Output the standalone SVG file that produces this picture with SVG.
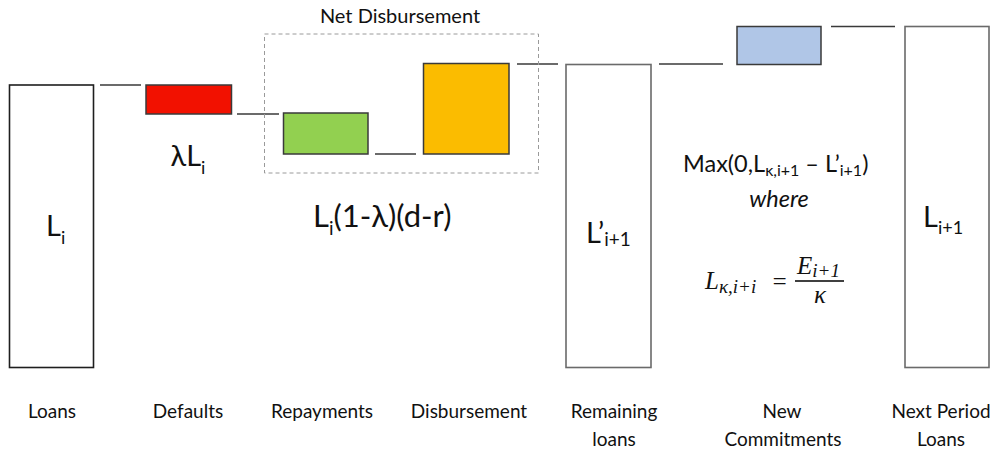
<svg xmlns="http://www.w3.org/2000/svg" width="995" height="450" viewBox="0 0 995 450">
  <style>
    .bar { stroke: #3a3a3a; stroke-width: 1.5; }
    .tall { fill: #ffffff; stroke-width: 1.6; }
    .link { stroke: #3a3a3a; stroke-width: 1.5; fill: none; }
    .frame { fill: none; stroke: #9a9a9a; stroke-width: 1; stroke-dasharray: 4 3; }
    text { font-family: "Lato", "Liberation Sans", sans-serif; fill: #111; }
    .cap { font-size: 19px; text-anchor: middle; }
    .big { font-size: 29px; }
    .mid { font-size: 23.5px; }
    .math { font-family: "Liberation Serif", "DejaVu Serif", serif; font-style: italic; font-size: 25px; }
  </style>

  <rect width="995" height="450" fill="#ffffff"/>

  <!-- step connectors between bars -->
  <g id="connectors">
    <line class="link" x1="100" y1="85" x2="141" y2="85"/>
    <line class="link" x1="237" y1="114" x2="279" y2="114"/>
    <line class="link" x1="375" y1="154" x2="416" y2="154"/>
    <line class="link" x1="517" y1="64" x2="558" y2="64"/>
    <line class="link" x1="659" y1="64" x2="723" y2="64"/>
    <line class="link" x1="831" y1="26.5" x2="895" y2="26.5"/>
  </g>

  <!-- dashed bracket around repayments and disbursement -->
  <g id="net-disbursement">
    <rect class="frame" x="264.5" y="34" width="274" height="139"/>
    <text x="400" y="23" font-size="20" text-anchor="middle">Net Disbursement</text>
  </g>

  <g id="loans">
    <rect class="tall" x="9.5" y="85" width="84" height="282.5" stroke="#1e1e1e"/>
    <text class="big" x="46" y="236">L<tspan font-size="18" dy="8">i</tspan></text>
    <text class="cap" x="52" y="418">Loans</text>
  </g>

  <g id="defaults">
    <rect class="bar" x="146" y="85" width="85.5" height="29" fill="#f21100"/>
    <text class="big" x="188" y="166" text-anchor="middle">λL<tspan font-size="18" dy="8">i</tspan></text>
    <text class="cap" x="188" y="418">Defaults</text>
  </g>

  <g id="repayments">
    <rect class="bar" x="283.5" y="113" width="84.5" height="41" fill="#92d050"/>
    <text class="cap" x="322" y="418">Repayments</text>
  </g>

  <g id="disbursement">
    <rect class="bar" x="423.5" y="63.5" width="85.5" height="90.5" fill="#fbbc00"/>
    <text class="cap" x="469" y="418">Disbursement</text>
  </g>

  <!-- formula shared by repayments and disbursement -->
  <text x="313" y="227" font-size="31">L<tspan font-size="19" dy="8">i</tspan><tspan dy="-8">(1-λ)(d-r)</tspan></text>

  <g id="remaining-loans">
    <rect class="tall" x="566" y="64.5" width="85" height="303" stroke="#6a6a6a"/>
    <text class="big" x="586" y="243">L’<tspan font-size="19" dy="3">i+1</tspan></text>
    <text class="cap" x="614" y="418">Remaining</text>
    <text class="cap" x="614" y="446">loans</text>
  </g>

  <g id="new-commitments">
    <rect class="bar" x="737" y="26.5" width="84" height="38" fill="#b0c6e7" stroke="#4a4a4a"/>
    <text class="mid" x="683" y="172">Max(0,L<tspan font-size="16" dy="4">κ,i+1</tspan><tspan dy="-4"> – L’</tspan><tspan font-size="16" dy="4">i+1</tspan><tspan dy="-4">)</tspan></text>
    <text class="mid" x="779" y="207" text-anchor="middle" font-style="italic">where</text>
    <text class="math" x="705" y="289">L<tspan font-size="19" dy="4">κ,i+i</tspan></text>
    <text class="math" x="771" y="290" font-style="normal" font-size="30">=</text>
    <line x1="795" y1="281" x2="844" y2="281" stroke="#000" stroke-width="1.4"/>
    <text class="math" x="797" y="274">E<tspan font-size="19" dy="3">i+1</tspan></text>
    <text class="math" x="820" y="303" text-anchor="middle">κ</text>
    <text class="cap" x="782" y="418">New</text>
    <text class="cap" x="783" y="446">Commitments</text>
  </g>

  <g id="next-period-loans">
    <rect class="tall" x="905" y="26.5" width="84" height="341" stroke="#6a6a6a"/>
    <text class="big" x="923" y="227">L<tspan font-size="18" dy="7">i+1</tspan></text>
    <text class="cap" x="941" y="418">Next Period</text>
    <text class="cap" x="941" y="446">Loans</text>
  </g>
</svg>
